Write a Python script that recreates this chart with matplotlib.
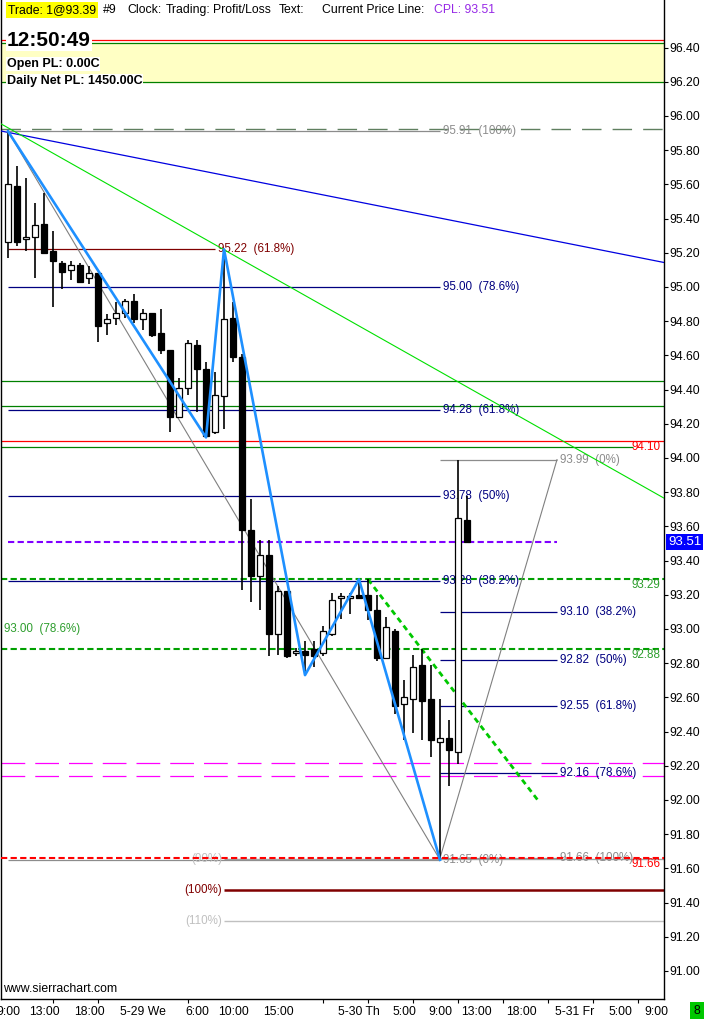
import numpy as np
from matplotlib import pyplot as plt, patches as mpatches, transforms as mtransforms
from matplotlib.ticker import MultipleLocator

plt.rcParams['font.family'] = ['Liberation Sans', 'DejaVu Sans']

# hourly bars, bar 0 = 5-28 9:00
opens = [95.26, 95.59, 95.28, 95.29, 95.37, 95.21, 95.14, 95.10, 95.13, 95.05,
         95.08, 94.79, 94.82, 94.85, 94.92, 94.81, 94.85, 94.73, 94.63, 94.24,
         94.41, 94.66, 94.52, 94.15, 94.36, 94.82, 94.59, 93.58, 93.31, 93.43,
         92.97, 93.22, 92.86, 92.87, 92.88, 92.86, 92.97, 93.18, 93.18, 93.20,
         93.20, 93.11, 92.83, 92.99, 92.56, 92.59, 92.79, 92.59, 92.34, 92.36,
         92.28, 93.64]
highs = [95.92, 95.71, 95.64, 95.49, 95.55, 95.33, 95.15, 95.15, 95.14, 95.12,
         95.08, 94.84, 94.91, 94.93, 94.96, 94.87, 94.85, 94.87, 94.63, 94.47,
         94.69, 94.69, 94.56, 94.50, 95.22, 94.91, 94.61, 93.76, 93.52, 93.52,
         93.25, 93.22, 92.89, 92.93, 92.93, 93.02, 93.21, 93.21, 93.21, 93.29,
         93.29, 93.20, 93.07, 93.00, 92.70, 92.85, 92.88, 92.79, 92.59, 92.47,
         93.99, 93.78]
lows = [95.17, 95.24, 95.21, 95.05, 95.20, 94.88, 94.99, 95.04, 95.03, 95.02,
        94.68, 94.72, 94.78, 94.82, 94.79, 94.75, 94.71, 94.61, 94.15, 94.24,
        94.37, 94.27, 94.12, 94.14, 94.17, 94.56, 93.23, 93.16, 93.11, 92.84,
        92.85, 92.83, 92.84, 92.73, 92.78, 92.84, 92.96, 93.06, 93.09, 93.18,
        93.05, 92.81, 92.83, 92.50, 92.35, 92.39, 92.35, 92.25, 91.65, 92.08,
        92.21, 93.51]
closes = [95.60, 95.26, 95.29, 95.36, 95.20, 95.15, 95.09, 95.13, 95.03, 95.08,
          94.77, 94.81, 94.85, 94.92, 94.81, 94.85, 94.72, 94.63, 94.24, 94.41,
          94.67, 94.52, 94.13, 94.37, 94.81, 94.59, 93.58, 93.31, 93.43, 92.97,
          93.22, 92.84, 92.87, 92.85, 92.84, 92.99, 93.17, 93.19, 93.19, 93.18,
          93.11, 92.83, 93.01, 92.55, 92.60, 92.78, 92.58, 92.35, 92.36, 92.29,
          93.65, 93.51]

time_labels = ['9:00', '13:00', '18:00', '5-29 We', '6:00', '10:00', '15:00', '5-30 Th',
               '5:00', '9:00', '13:00', '18:00', '5-31 Fr', '5:00', '9:00']
time_label_bars = [0, 4, 9, 15, 21, 25, 30, 39, 44, 48, 52, 57, 63, 68, 72]

zigzag_bars = [0, 22, 24, 33, 39, 48]
zigzag_prices = [95.91, 94.12, 95.22, 92.73, 93.29, 91.65]

fib_left_levels = [95.91, 95.00, 94.28, 93.78, 93.28, 91.65]
fib_left_pcts = ['100%', '78.6%', '61.8%', '50%', '38.2%', '0%']
fib_right_levels = [93.99, 93.10, 92.82, 92.55, 92.16, 91.66]
fib_right_pcts = ['0%', '38.2%', '50%', '61.8%', '78.6%', '100%']
ext_levels = [91.654, 91.473, 91.292]
ext_pcts = ['90%', '100%', '110%']

blue_trend = ([-0.89, 72.89], [95.913, 95.143])
green_trend = ([-0.89, 72.89], [95.957, 93.765])
green_dotted = ([40.0, 59.0], [93.29, 91.99])
fib_left_anchor = ([0, 48], [95.91, 91.65])
fib_right_anchor = ([48, 61], [91.66, 93.99])

W, H = 705, 1019
fig = plt.figure(figsize=(W / 100, H / 100), dpi=100)
ax = fig.add_axes([1 / W, 20 / H, 663 / W, 999 / H])
ax.set_xlim(-0.78, 72.89)
ax.set_ylim(90.836, 96.678)

FS = 8.8
NAVY = '#000080'
GRAY = '#8c8c8c'


def px_text(x, y, s, **kw):
    kw.setdefault('fontsize', FS)
    kw.setdefault('va', 'center')
    fig.text(x / W, 1 - y / H, s, **kw)


# header band
ax.axhspan(96.20, 96.425, color='#ffffc4', zorder=0)
ax.axhline(96.444, color='red', lw=0.9, zorder=1)
ax.axhline(96.425, color='#008000', lw=0.9, zorder=1)
ax.axhline(96.20, color='#008000', lw=0.9, zorder=1)

# full width levels
ax.axhline(95.922, color='#5f7f5f', lw=1.0, ls=(0, (14, 8)), zorder=1)
ax.axhline(94.450, color='#008000', lw=0.9, zorder=1)
ax.axhline(94.304, color='#008000', lw=0.9, zorder=1)
ax.axhline(94.10, color='red', lw=0.9, zorder=1)
ax.hlines(94.062, -0.78, 69.4, color='#008000', lw=0.9, zorder=1)
ax.axhline(93.29, color='#00a000', lw=1.5, ls=(0, (3, 1.6)), zorder=2)
ax.axhline(92.88, color='#00a000', lw=1.5, ls=(0, (3, 1.6)), zorder=2)
ax.axhline(92.214, color='#ff00ff', lw=0.9, ls=(0, (19, 8)), zorder=1)
ax.axhline(92.140, color='#ff00ff', lw=0.9, ls=(0, (19, 8)), zorder=1)
ax.hlines(93.51, 0, 61, color='#8000ff', lw=1.5, ls=(0, (3, 1.6)), zorder=2)

# fib retracement, left
for lvl, pct in zip(fib_left_levels, fib_left_pcts):
    c = GRAY if pct in ('100%', '0%') else NAVY
    ax.hlines(lvl, 0, 48, color=c, lw=0.9, zorder=1)
    ax.text(48.35, lvl, f'{lvl:.2f}  ({pct})', color=c, fontsize=8.4, va='center', zorder=3)

# fib retracement, right
for lvl, pct in zip(fib_right_levels, fib_right_pcts):
    c = GRAY if pct in ('100%', '0%') else NAVY
    ax.hlines(lvl, 48, 61, color=c, lw=0.9, zorder=1)
    ax.text(61.3, lvl, f'{lvl:.2f}  ({pct})', color=c, fontsize=8.4, va='center', zorder=3)

# extension
ext_colors = ['#a0a0a0', '#800000', '#c0c0c0']
ext_widths = [1.0, 1.8, 1.0]
for lvl, pct, c, w in zip(ext_levels, ext_pcts, ext_colors, ext_widths):
    ax.hlines(lvl, 24, 72.89, color=c, lw=w, zorder=1)
    tc = '#c0c0c0' if c == '#a0a0a0' else c
    ax.text(23.8, lvl, f'({pct})', color=tc, fontsize=8.4, va='center', ha='right', zorder=3)

ax.axhline(91.66, color='red', lw=1.5, ls=(0, (3, 1.6)), zorder=4)

ax.hlines(95.22, 0, 23, color='#800000', lw=0.9, zorder=1)
ax.text(23.3, 95.22, '95.22  (61.8%)', color='#800000', fontsize=8.4, va='center', zorder=3)
ax.text(-0.45, 93.00, '93.00  (78.6%)', color='#2e9e2e', fontsize=8.4, va='center', zorder=3)

# right side level labels
ax.text(72.45, 94.10, '94.10', color='red', fontsize=8.4, ha='right', va='top', zorder=3)
ax.text(72.45, 93.29, '93.29', color='#2e9e2e', fontsize=8.4, ha='right', va='top', zorder=3)
ax.text(72.45, 92.88, '92.88', color='#2e9e2e', fontsize=8.4, ha='right', va='top', zorder=3)
ax.text(72.45, 91.66, '91.66', color='red', fontsize=8.4, ha='right', va='top', zorder=3)

# diagonals
ax.plot(*fib_left_anchor, color='#808080', lw=0.8, zorder=3)
ax.plot(*fib_right_anchor, color='#808080', lw=0.8, zorder=3)
ax.plot(*blue_trend, color='#0000e0', lw=0.9, zorder=3)
ax.plot(*green_trend, color='#00e000', lw=0.8, zorder=3)
ax.plot(*green_dotted, color='#00c800', lw=2.0, ls=(0, (2, 1.5)), zorder=3)

# candles
for i, (o, h, l, c) in enumerate(zip(opens, highs, lows, closes)):
    ax.vlines(i, l, h, color='k', lw=1.2, zorder=5)
    bottom = min(o, c)
    height = max(abs(c - o), 0.008)
    face = 'white' if c > o else 'black'
    ax.add_patch(mpatches.Rectangle((i - 0.31, bottom), 0.62, height, facecolor=face,
                                    edgecolor='k', lw=0.9, zorder=6))

ax.plot(zigzag_bars, zigzag_prices, color='#1e90ff', lw=1.9, zorder=7)

# axes
ax.yaxis.tick_right()
price_ticks = np.round(np.arange(91.0, 96.41, 0.2), 2)
ax.set_yticks(price_ticks, [f'{t:.2f}' for t in price_ticks])
ax.tick_params(axis='y', length=3, width=0.8, pad=1, labelsize=FS)
ax.set_xticks(time_label_bars, time_labels)
ax.xaxis.set_minor_locator(MultipleLocator(5))
ax.tick_params(axis='x', which='major', length=0, pad=5, labelsize=FS)
ax.tick_params(axis='x', which='minor', length=3, width=0.8)
ax.spines['top'].set_visible(False)
for s in ('left', 'right', 'bottom'):
    ax.spines[s].set_linewidth(1.0)

trans = mtransforms.blended_transform_factory(ax.transAxes, ax.transData)
ax.text(1.0 + 4 / 663, 93.51, '93.51', transform=trans, color='white', fontsize=9.5,
        va='center', ha='left', zorder=10, clip_on=False,
        bbox=dict(facecolor='#0000ff', edgecolor='none', pad=1.5))

# header texts
px_text(8, 10, 'Trade: 1@93.39', bbox=dict(facecolor='#ffff00', edgecolor='none', pad=1.5))
px_text(103, 10, '#9')
px_text(127, 10, 'Clock:')
px_text(166, 10, 'Trading:')
px_text(213, 10, 'Profit/Loss')
px_text(279, 10, 'Text:')
px_text(322, 10, 'Current Price Line:')
px_text(434, 10, 'CPL: 93.51', color='#9628e6')
px_text(7, 40, '12:50:49', fontsize=15, fontweight='bold',
        bbox=dict(facecolor='white', edgecolor='none', pad=1))
px_text(7, 64, 'Open PL: 0.00C', fontsize=9, fontweight='bold',
        bbox=dict(facecolor='white', edgecolor='none', pad=0.5))
px_text(7, 81, 'Daily Net PL: 1450.00C', fontsize=9, fontweight='bold',
        bbox=dict(facecolor='white', edgecolor='none', pad=0.5))
px_text(3, 989, 'www.sierrachart.com')
px_text(697, 1011, '8', ha='center', bbox=dict(facecolor='#00c800', edgecolor='none', pad=2.5))

fig.savefig('out.png', dpi=100, facecolor='white')
